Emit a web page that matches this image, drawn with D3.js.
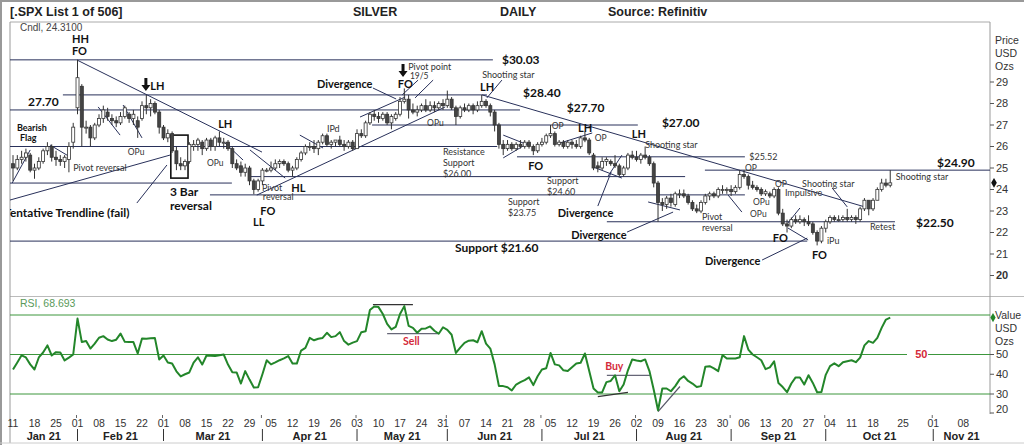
<!DOCTYPE html>
<html>
<head>
<meta charset="utf-8">
<script src="https://cdn.jsdelivr.net/npm/d3@7"></script>
<style>
body { margin: 0; background: #fff; }
</style>
</head>
<body>
<div id="chart"></div>
<script>
// trading days (weekdays) Jan 11 - Oct 22 2021, then calendar days to mid Nov
var startDate = "2021-01-11", endDate = "2021-10-22", axisEnd = "2021-11-14";

// one row = one week
var open = [
 25.2,25.0,25.4,25.5,25.6, 24.9,25.0,25.3,25.8,26.0, 25.5,25.4,25.3,25.4,26.2,
 27.8,28.8,26.9,26.9,26.4, 27.0,27.3,27.6,27.3,27.2, 27.1,27.4,27.5,27.3,27.2,
 27.3,27.9,27.8,28.0,27.6, 26.9,26.4,26.6,25.8,25.2, 25.1,25.3,26.0,26.1,26.2,
 25.9,26.3,26.0,26.4,26.2, 26.2,25.9,25.2,25.1,24.8, 25.0,24.4,24.0,24.4,24.9,
 24.9,25.0,25.2,25.3,25.2, 24.9,25.0,25.4,25.7,26.0, 26.0,25.9,26.2,26.5,26.1,
 26.2,26.3,26.1,26.0,26.2, 25.9,26.6,26.5,27.1,27.5, 27.4,27.3,27.5,27.1,27.3,
 27.5,28.1,28.2,27.7,27.6, 27.7,27.9,27.7,27.9,27.8, 28.0,27.9,28.2,27.8,27.4,
 27.8,27.7,27.9,27.7,27.9, 28.1,27.9,27.6,27.0,26.1, 25.9,26.1,25.9,26.1,26.0,
 26.2,26.0,25.8,26.1,26.2, 26.5,26.6,26.1,26.2,26.0, 26.2,26.1,26.0,26.4,26.3,
 25.6,25.1,25.0,25.3,25.3, 25.2,25.1,24.7,25.0,25.6, 25.5,25.4,25.6,25.5,25.2,
 24.3,23.4,23.3,23.6,23.3, 23.8,23.8,23.7,23.4,23.1, 23.0,23.4,23.7,23.8,23.7,
 24.0,24.0,24.0,23.9,24.1, 24.7,24.6,24.2,24.1,24.0, 23.8,23.8,23.7,24.0,22.9,
 22.4,22.3,22.6,22.5,22.6, 22.5,22.4,22.0,21.6,22.2, 22.5,22.7,22.6,22.6,22.7,
 22.6,22.7,22.6,23.1,23.5, 23.1,23.5,24.0,24.3,24.2
];
var high = [
 25.6,25.6,25.8,25.9,25.7, 25.2,25.5,25.9,26.2,26.1, 25.8,25.6,25.6,26.2,27.1,
 30.03,28.9,27.2,27.0,27.1, 27.5,27.9,27.8,27.5,27.4, 27.6,27.9,27.6,27.7,27.4,
 28.1,28.4,28.2,28.1,27.7, 27.0,26.8,26.7,26.0,25.5, 25.4,26.2,26.3,26.4,26.3,
 26.4,26.4,26.5,26.7,26.4, 26.3,26.0,25.4,25.3,25.2, 25.1,24.5,24.5,25.0,25.0,
 25.3,25.4,25.4,25.4,25.3, 25.1,25.5,25.8,26.1,26.2, 26.3,26.3,26.6,26.6,26.3,
 26.3,26.5,26.3,26.3,26.3, 26.8,26.8,27.2,27.6,27.7, 27.6,27.6,27.6,27.5,27.6,
 28.3,28.7,28.4,28.0,27.9, 28.0,28.2,28.1,28.1,28.1, 28.2,28.6,28.3,27.9,27.9,
 28.0,28.0,28.0,28.1,28.4, 28.2,28.0,27.7,27.1,26.3, 26.3,26.2,26.2,26.3,26.3,
 26.3,26.1,26.2,26.4,26.6, 27.0,26.7,26.3,26.3,26.3, 26.3,26.3,26.5,26.7,26.4,
 25.7,25.3,25.5,25.5,25.4, 25.6,25.2,25.1,25.7,25.8, 25.8,25.7,26.0,25.6,25.3,
 24.4,23.6,23.7,23.8,23.9, 24.0,24.0,23.8,23.5,23.3, 23.5,23.8,23.9,23.9,24.1,
 24.2,24.1,24.2,24.2,24.9, 24.9,24.7,24.4,24.2,24.1, 24.0,23.9,24.1,24.1,23.1,
 22.6,22.7,22.8,22.8,22.7, 22.8,22.5,22.1,22.3,22.6, 22.8,22.8,22.8,22.8,23.1,
 22.8,22.8,23.2,23.6,23.5, 23.6,24.1,24.5,24.5,24.9
];
var low = [
 24.4,24.9,25.2,25.3,24.8, 24.5,24.9,25.2,25.6,25.3, 25.1,25.1,25.0,24.8,25.9,
 27.5,26.0,26.6,26.0,26.3, 26.9,27.1,27.2,27.0,26.9, 27.0,27.3,27.1,27.0,26.4,
 27.2,27.5,27.4,27.5,26.6, 26.3,26.2,25.7,24.9,24.9, 24.9,25.2,25.8,25.8,25.6,
 25.8,25.8,25.8,26.0,25.9, 25.8,25.0,24.9,24.6,24.6, 24.2,23.78,23.9,24.2,24.8,
 24.8,24.9,25.0,25.1,24.8, 24.6,24.9,25.3,25.6,25.8, 25.7,25.6,26.1,26.0,25.9,
 26.0,26.0,25.8,25.9,25.8, 25.9,26.4,26.4,27.0,27.2, 27.1,27.2,27.0,26.8,27.2,
 27.4,28.0,27.3,27.5,27.4, 27.6,27.6,27.6,27.6,27.7, 27.7,27.8,27.7,27.0,27.3,
 27.6,27.6,27.5,27.6,27.8, 27.8,27.4,26.7,25.9,25.6, 25.8,25.8,25.8,25.9,25.9,
 25.9,25.6,25.7,26.0,26.1, 26.4,26.0,26.0,25.9,25.9, 25.9,25.9,25.9,26.2,25.6,
 24.9,24.8,24.9,25.1,25.1, 25.0,24.6,24.6,24.9,25.4, 25.3,25.2,25.4,25.1,24.1,
 22.5,23.0,23.1,23.2,23.2, 23.6,23.6,23.3,23.0,22.9, 22.9,23.3,23.5,23.6,23.6,
 23.8,23.8,23.7,23.8,24.0, 24.5,24.0,24.0,23.9,23.7, 23.7,23.6,23.6,22.8,22.3,
 22.0,22.2,22.4,22.4,22.3, 22.3,21.9,21.4,21.5,22.0, 22.4,22.5,22.5,22.5,22.5,
 22.5,22.4,22.5,23.0,22.8, 23.0,23.5,23.9,24.1,24.1
];
var close = [
 25.0,25.4,25.5,25.7,24.9, 25.0,25.3,25.8,26.0,25.5, 25.4,25.3,25.5,26.0,26.9,
 29.2,26.9,26.9,26.4,27.0, 27.3,27.7,27.4,27.2,27.1, 27.4,27.8,27.3,27.5,26.9,
 27.9,27.8,28.0,27.6,26.9, 26.4,26.6,25.8,25.2,25.1, 25.3,26.1,26.1,26.3,25.9,
 26.3,26.0,26.4,26.2,26.2, 25.9,25.2,25.0,24.8,25.0, 24.4,24.0,24.4,24.9,24.9,
 25.0,25.2,25.3,25.2,24.9, 25.0,25.4,25.7,26.0,26.0, 25.9,26.2,26.5,26.1,26.2,
 26.3,26.1,26.0,26.2,25.9, 26.6,26.5,27.1,27.5,27.4, 27.3,27.5,27.1,27.4,27.5,
 28.1,28.2,27.7,27.6,27.7, 27.9,27.7,27.9,27.8,28.0, 27.9,28.2,27.8,27.4,27.8,
 27.7,27.9,27.7,27.9,28.1, 27.9,27.6,27.0,26.1,25.9, 26.1,25.9,26.1,26.0,26.2,
 26.0,25.8,26.1,26.2,26.5, 26.6,26.1,26.2,26.0,26.2, 26.1,26.0,26.4,26.3,25.7,
 25.0,25.0,25.3,25.4,25.2, 25.1,24.7,25.0,25.6,25.5, 25.4,25.6,25.5,25.2,24.3,
 23.4,23.3,23.6,23.4,23.8, 23.8,23.7,23.4,23.1,23.0, 23.4,23.7,23.8,23.7,24.0,
 24.0,24.0,23.9,24.1,24.7, 24.6,24.2,24.1,24.0,23.8, 23.9,23.7,24.0,22.9,22.4,
 22.3,22.6,22.5,22.6,22.5, 22.4,22.0,21.6,22.2,22.5, 22.7,22.6,22.6,22.7,22.6,
 22.7,22.6,23.1,23.5,23.1, 23.5,24.0,24.3,24.2,24.31
];
var rsi = [
 42.4,46,49.6,48.5,45, 42.4,48.5,51,54.6,49.5, 51.2,51,47,48.4,50,
 68.2,56.3,56.8,53,55.5, 58.5,59.3,57.6,56.8,57.5, 60.6,56.4,56.3,56.3,50.5,
 58.1,58,58.2,58.3,47.5, 49.5,45.9,45.4,41.5,38.9, 40,40.9,45.9,48.6,44.9,
 49.5,49.4,49.2,49.6,50, 44.9,41,40.9,35.3,41.6, 37.3,33.3,33.4,40,47.1,
 45,46,47.1,48,49.2, 45.4,45.4,52,53.4,58.4, 57.2,58,58.4,61,58.8,
 59.3,61.3,56.8,55,56, 56.8,61.3,61.8,72.5,74.3, 74,70.5,65.5,62.7,64,
 70.5,74.5,64.5,63.5,61, 63,63.2,64.2,62,60.5, 63.8,62.5,60,50.8,53.5,
 55.9,57,57.2,56.2,61.8, 55.5,53,45,34,34, 33.4,31.8,34.8,36,37,
 38.4,34.5,39,42.4,43, 50.8,45,44.5,42,41.6, 43.6,45.5,45.8,50.5,41.6,
 32.8,30.8,30.8,36,36.6, 39.5,31.4,34.8,42,47.5, 47,46.6,47.5,41.6,32.2,
 21.8,32.8,32.8,31.4,34, 37.3,39,36.6,35.3,33.5, 34,43.8,44.1,43,41.6,
 49.7,48,48,48,48.6, 59.3,52.5,50,48.6,47.1, 42.6,43.5,46.5,35.6,33.5,
 30.9,35.3,38.4,38.4,34.8, 39.5,35.6,30.9,31,39.7, 44.1,45.5,44.1,46.1,46.6,
 47.1,46.1,48.4,54.6,56.8, 55.9,58.4,63.5,67.7,68.693
];

var priceTicks = [20,21,22,23,24,25,26,27,28,29];
var rsiTicks = [20,30,40,50];
var rsiLevels = [30,50,70];
var lastPrice = 24.31, lastRsi = 68.693;

// support / resistance lines: price, from day index, to day index
var levelPrice = [30.03, 28.40, 27.70, 27.00, 26.00, 25.52, 24.90, 24.30, 24.60, 23.75, 22.50, 21.60];
var levelFrom  = [-1, 11.6, -1, 83.5, -1, 117.2, 160.9, -1, 55.1, 45.8, 138.1, -1];
var levelTo    = [111.6, 110.2, 117.9, 145.3, 112.6, 170.2, 228, 50.9, 156.3, 170.2, 205.1, 184.7];

// hand drawn trend lines and pointers [day, price, day, price]
var trendLines = [
 [14.9,30.02,57.9,25.74],[109.1,28.40,198.1,23.19],[56.7,23.74,100.5,27.84],[80.7,27.37,91.2,28.30],
 [97.7,29.09,93.5,28.26],[94.2,29.09,90.5,28.40],[83.7,28.72,89.1,28.21],[113.7,29.09,110.2,28.26],
 [19.8,27.84,24.9,26.53],[25.6,27.93,30.0,26.40],[-0.2,24.30,4.0,25.84],[8.6,26.07,13.3,25.51],
 [-0.7,23.51,36.5,25.60],[28.8,23.37,35.8,25.14],[49.3,26.16,53.5,25.37],[55.1,25.84,63.3,24.53],
 [66.7,26.53,72.1,25.93],[114,26.53,119.8,26.07],[114,25.47,119.8,26.16],[127.2,26.16,134.7,26.63],
 [134.9,25.05,141.6,24.53],[136,23.23,139.1,24.81],[138.4,24.63,141.6,25.6],[142.8,22.02,153.5,22.95],
 [147.7,23.42,155.1,23.05],[166.3,23.74,169.5,22.95],[174.2,20.72,184.7,21.74],[180.2,22.21,184.9,21.65],
 [180.2,22.44,183.0,23.14],[190.5,24.07,194.0,23.19]
];
var boxes = [[36.7,26.53,40.7,24.53]];
var arrows = [[30.9,29.19],[90.7,29.84]];

// notes on the price panel: text, day, price, bold, size
var notes = [
 ["HH",13.7,30.98,1,11],["FO",13.7,30.45,1,11],["LH",31.9,28.81,1,11],["27.70",3.5,28.07,1,12],
 ["Bearish",0.9,26.86,1,9],["Flag",1.6,26.40,1,9],["LH",47.7,27.05,1,11],["IPd",73.0,26.81,0,9],
 ["Divergence",70.7,28.91,1,11],["$30.03",113.7,30.02,1,12],["Pivot point",91.9,29.72,0,9],["19/5",92.3,29.30,0,8.5],
 ["FO",89.5,28.88,1,11],["Shooting star",109.1,29.33,0,9],["LH",108.6,28.77,1,11],["$28.40",118.6,28.49,1,12],
 ["$27.70",128.8,27.79,1,12],["$27.00",150.9,27.09,1,12],["OP",125.3,26.95,0,8.5],["LH",131.4,26.86,1,11],
 ["OP",135.3,26.40,0,8.5],["LH",143.9,26.58,1,11],["Shooting star",147.0,26.07,0,9],["OPu",26.7,25.74,0,8.5],
 ["OPu",45.1,25.23,0,8.5],["OPu",96.3,27.09,0,8.5],["Pivot reversal",14.0,25.0,0,9],["Resistance",100,25.74,0,9],
 ["Support",100,25.23,0,9],["$26.00",100,24.72,0,9],["FO",119.8,25.09,1,11],["Support",124.2,24.40,0,9],
 ["$24.60",124.2,23.88,0,9],["Support",115.1,23.42,0,9],["$23.75",115.1,22.91,0,9],["Divergence",126.7,22.91,1,11],
 ["Divergence",129.8,21.88,1,11],["Support $21.60",102.8,21.28,1,12],["3 Bar",36.5,23.88,1,12],["reversal",36.5,23.23,1,12],
 ["Pivot",57.9,24.09,0,9],["reversal",58.1,23.64,0,9],["FO",57.5,23.00,1,11],["LL",55.8,22.47,1,11],
 ["HL",64.7,24.07,1,11],["OP",170.2,25.0,0,8.5],["$25.52",171.2,25.51,0,9],["OP",177.2,24.26,0,8.5],
 ["Shooting star",183.5,24.26,0,9],["Impulsive",179.5,23.84,0,9],["OPu",172.1,23.42,0,8.5],["OPu",171.4,22.86,0,8.5],
 ["Pivot",160.2,22.72,0,9],["reversal",160.2,22.21,0,9],["FO",176.7,21.74,1,11],["iPu",189.3,21.60,0,9],
 ["FO",185.8,20.95,1,11],["Divergence",160.9,20.67,1,11],["Retest",199.3,22.26,0,9],["$22.50",210,22.44,1,12],
 ["$24.90",214.9,25.23,1,12],["Shooting star",205.3,24.58,0,9]
];

// RSI notes and marker lines
var rsiNotes = [["Sell",90.7,56.6],["Buy",137.7,43.9]];
var rsiMarks = [[83.7,75.3,93.0,75.3,"#333"],[87.0,60.6,98.8,60.6,"#667"],[138.1,39.4,148.1,39.4,"#667"],
                [136.0,28.7,143.0,30.8,"#333"],[150.0,21.1,155.1,33.8,"#556"]];

var W = 1024, H = 445;
var L = 10, R = 990, pTop = 22, pBot = 296.5, rTop = 297, rBot = 414;

var parse = d3.timeParse("%Y-%m-%d");
var tradeDays = d3.timeDay.range(parse(startDate), d3.timeDay.offset(parse(endDate), 1))
    .filter(function(d) { return d.getDay() % 6 !== 0; });
var futureDays = d3.timeDay.range(d3.timeDay.offset(parse(endDate), 1), d3.timeDay.offset(parse(axisEnd), 1));
var axisDays = tradeDays.concat(futureDays);

var x = d3.scaleLinear().domain([-0.7, 227.2]).range([L, R]);
var yP = d3.scaleLinear().domain([20, 29]).range([275.5, 82]);
var yR = d3.scaleLinear().domain([30, 70]).range([394, 315]);

var svg = d3.select("#chart").append("svg").attr("width", W).attr("height", H)
    .style("font-family", "'Liberation Sans', Arial, sans-serif");
svg.append("rect").attr("width", W).attr("height", H).attr("fill", "#fff");

var defs = svg.append("defs");
defs.append("clipPath").attr("id", "cp").append("rect").attr("x", L).attr("y", pTop).attr("width", R - L).attr("height", pBot - pTop);
defs.append("clipPath").attr("id", "cr").append("rect").attr("x", L).attr("y", rTop).attr("width", R - L).attr("height", rBot - rTop);

// frame
svg.append("line").attr("x1", 0).attr("x2", W).attr("y1", 1).attr("y2", 1).attr("stroke", "#999").attr("stroke-width", 2);
svg.append("line").attr("x1", 1).attr("x2", 1).attr("y1", 0).attr("y2", H).attr("stroke", "#999").attr("stroke-width", 2);
svg.append("line").attr("x1", L).attr("x2", R).attr("y1", pTop).attr("y2", pTop).attr("stroke", "#aaa");
svg.append("line").attr("x1", L).attr("x2", W).attr("y1", pBot).attr("y2", pBot).attr("stroke", "#bbb");
svg.append("line").attr("x1", L).attr("x2", L).attr("y1", pTop).attr("y2", 443).attr("stroke", "#999");
svg.append("line").attr("x1", R).attr("x2", R).attr("y1", pTop).attr("y2", rBot).attr("stroke", "#999");
svg.append("line").attr("x1", 0).attr("x2", W).attr("y1", 443).attr("y2", 443).attr("stroke", "#ccc");

// header
var head = [["[.SPX List 1 of 506]", 10], ["SILVER", 353], ["DAILY", 500], ["Source: Refinitiv", 608]];
svg.selectAll(".head").data(head).enter().append("text")
    .attr("x", function(d) { return d[1]; }).attr("y", 16)
    .attr("font-size", 12.5).attr("font-weight", "bold").attr("fill", "#222")
    .text(function(d) { return d[0]; });

svg.append("text").attr("x", 20).attr("y", 31).attr("font-size", 10).attr("fill", "#444").text("Cndl, 24.3100");

// price panel
var gp = svg.append("g").attr("clip-path", "url(#cp)");
var navy = "#28305a";

gp.selectAll(".lev").data(levelPrice).enter().append("line")
    .attr("x1", function(d, i) { return x(levelFrom[i]); })
    .attr("x2", function(d, i) { return x(levelTo[i]); })
    .attr("y1", function(d) { return yP(d); }).attr("y2", function(d) { return yP(d); })
    .attr("stroke", navy).attr("stroke-width", 1);

gp.selectAll(".tl").data(trendLines).enter().append("line")
    .attr("x1", function(d) { return x(d[0]); }).attr("y1", function(d) { return yP(d[1]); })
    .attr("x2", function(d) { return x(d[2]); }).attr("y2", function(d) { return yP(d[3]); })
    .attr("stroke", navy).attr("stroke-width", 1);

gp.selectAll(".box").data(boxes).enter().append("rect")
    .attr("x", function(d) { return x(d[0]); }).attr("y", function(d) { return yP(d[1]); })
    .attr("width", function(d) { return x(d[2]) - x(d[0]); })
    .attr("height", function(d) { return yP(d[3]) - yP(d[1]); })
    .attr("fill", "none").attr("stroke", "#111").attr("stroke-width", 1.6);

// candles
var cg = gp.selectAll(".cdl").data(close).enter().append("g");
cg.append("line")
    .attr("x1", function(d, i) { return x(i); }).attr("x2", function(d, i) { return x(i); })
    .attr("y1", function(d, i) { return yP(high[i]); }).attr("y2", function(d, i) { return yP(low[i]); })
    .attr("stroke", "#333").attr("stroke-width", 1);
cg.append("rect")
    .attr("x", function(d, i) { return x(i) - 1.5; }).attr("width", 3)
    .attr("y", function(d, i) { return yP(Math.max(open[i], d)); })
    .attr("height", function(d, i) { return Math.max(1, Math.abs(yP(open[i]) - yP(d))); })
    .attr("fill", function(d, i) { return d >= open[i] ? "#fff" : "#444"; })
    .attr("stroke", "#333").attr("stroke-width", 0.8);

// down arrows
gp.selectAll(".arr").data(arrows).enter().append("path")
    .attr("transform", function(d) { return "translate(" + x(d[0]) + "," + yP(d[1]) + ")"; })
    .attr("d", "M-1.5,0 H1.5 V7 H4.5 L0,13 L-4.5,7 H-1.5 Z").attr("fill", "#111");

// notes
var noteG = svg.append("g").attr("clip-path", "url(#cp)").style("font-family", "Lato, 'Open Sans', sans-serif");
noteG.selectAll(".nt").data(notes).enter().append("text")
    .attr("x", function(d) { return x(d[1]); }).attr("y", function(d) { return yP(d[2]); })
    .attr("dy", "0.35em")
    .attr("font-size", function(d) { return d[4]; })
    .attr("font-weight", function(d) { return d[3] ? "bold" : "normal"; })
    .attr("fill", function(d) { return d[3] ? "#111" : "#333"; })
    .text(function(d) { return d[0]; });
noteG.append("text").attr("x", x(27.1)).attr("y", yP(22.91)).attr("dy", "0.35em")
    .attr("text-anchor", "end").attr("font-size", 11.8).attr("font-weight", "bold").attr("fill", "#111")
    .text("Tentative Trendline (fail)");

// price axis
var pa = svg.append("g");
pa.selectAll(".pt").data(priceTicks).enter().append("line")
    .attr("x1", R).attr("x2", R + 4).attr("y1", function(d) { return yP(d); }).attr("y2", function(d) { return yP(d); })
    .attr("stroke", "#555");
pa.selectAll(".pl").data(priceTicks).enter().append("text")
    .attr("x", R + 6).attr("y", function(d) { return yP(d); }).attr("dy", "0.35em")
    .attr("font-size", 11).attr("fill", "#333")
    .attr("font-weight", function(d) { return d === 20 ? "bold" : "normal"; })
    .text(function(d) { return d; });
pa.selectAll(".pu").data(["Price", "USD", "Ozs"]).enter().append("text")
    .attr("x", R + 5).attr("y", function(d, i) { return 44 + i * 13; })
    .attr("font-size", 10.5).attr("fill", "#333").text(function(d) { return d; });
pa.append("path").attr("d", d3.symbol(d3.symbolDiamond, 28)())
    .attr("transform", "translate(" + (R + 4) + "," + yP(lastPrice) + ")").attr("fill", "#111");

// RSI panel
var gr = svg.append("g").attr("clip-path", "url(#cr)");
var green = "#3c963c";
rsiLevels.forEach(function(v) {
    if (v === 50) {
        gr.append("line").attr("x1", L).attr("x2", x(207.9)).attr("y1", yR(v)).attr("y2", yR(v)).attr("stroke", green);
        gr.append("line").attr("x1", x(212.8)).attr("x2", R).attr("y1", yR(v)).attr("y2", yR(v)).attr("stroke", green);
    } else {
        gr.append("line").attr("x1", L).attr("x2", R).attr("y1", yR(v)).attr("y2", yR(v)).attr("stroke", green);
    }
});
gr.selectAll(".rm").data(rsiMarks).enter().append("line")
    .attr("x1", function(d) { return x(d[0]); }).attr("y1", function(d) { return yR(d[1]); })
    .attr("x2", function(d) { return x(d[2]); }).attr("y2", function(d) { return yR(d[3]); })
    .attr("stroke", function(d) { return d[4]; }).attr("stroke-width", 1.2);
gr.append("path").datum(rsi)
    .attr("d", d3.line().x(function(d, i) { return x(i); }).y(function(d) { return yR(d); }))
    .attr("fill", "none").attr("stroke", "#23862a").attr("stroke-width", 2).attr("stroke-linejoin", "round");
gr.selectAll(".rn").data(rsiNotes).enter().append("text")
    .attr("x", function(d) { return x(d[1]); }).attr("y", function(d) { return yR(d[2]); }).attr("dy", "0.35em")
    .attr("font-family", "Lato, sans-serif").attr("font-size", 10.5).attr("font-weight", "bold").attr("fill", "#d42a3a")
    .text(function(d) { return d[0]; });
gr.append("text").attr("x", x(209.8)).attr("y", yR(50)).attr("dy", "0.35em")
    .attr("font-size", 11).attr("font-weight", "bold").attr("fill", "#d42a3a").text("50");

svg.append("text").attr("x", 20).attr("y", 307).attr("font-size", 10.5).attr("fill", "#5a9a5a").text("RSI, 68.693");

var ra = svg.append("g");
ra.selectAll(".rt").data(rsiTicks).enter().append("line")
    .attr("x1", R).attr("x2", R + 4).attr("y1", function(d) { return Math.min(yR(d), rBot - 1); })
    .attr("y2", function(d) { return Math.min(yR(d), rBot - 1); }).attr("stroke", "#555");
ra.selectAll(".rl").data(rsiTicks).enter().append("text")
    .attr("x", R + 6).attr("y", function(d) { return d === 20 ? yR(d) - 5 : yR(d); }).attr("dy", "0.35em")
    .attr("font-size", 11).attr("fill", "#333").text(function(d) { return d; });
ra.selectAll(".ru").data(["Value", "USD", "Ozs"]).enter().append("text")
    .attr("x", R + 5).attr("y", function(d, i) { return 319 + i * 13; })
    .attr("font-size", 10.5).attr("fill", "#333").text(function(d) { return d; });
ra.append("path").attr("d", d3.symbol(d3.symbolDiamond, 24)())
    .attr("transform", "translate(" + (R + 3) + "," + yR(lastRsi) + ")").attr("fill", "#23862a");

// date axis
var fmtDay = d3.timeFormat("%d"), fmtMon = d3.timeFormat("%b %y");
var mondays = [];
axisDays.forEach(function(d, i) { if (d.getDay() === 1) mondays.push(i); });
svg.selectAll(".dl").data(mondays).enter().append("text")
    .attr("x", function(i) { return x(i); }).attr("y", 427)
    .attr("text-anchor", "middle").attr("font-size", 10.5).attr("fill", "#333")
    .text(function(i) { return fmtDay(axisDays[i]); });

var monthStarts = [];
axisDays.forEach(function(d, i) {
    if (i > 0 && d.getMonth() !== axisDays[i - 1].getMonth()) monthStarts.push(i);
});
svg.selectAll(".ms").data(monthStarts).enter().append("line")
    .attr("x1", function(i) { return x(i); }).attr("x2", function(i) { return x(i); })
    .attr("y1", 429).attr("y2", 441).attr("stroke", "#333");
svg.selectAll(".mt").data(monthStarts).enter().append("line")
    .attr("x1", function(i) { return x(i) - 1; }).attr("x2", function(i) { return x(i) - 1; })
    .attr("y1", rBot + 1).attr("y2", rBot + 4).attr("stroke", "#666");

var bounds = [L].concat(monthStarts.map(function(i) { return x(i); })).concat([R]);
var monthDates = [axisDays[0]].concat(monthStarts.map(function(i) { return axisDays[i]; }));
svg.selectAll(".ml").data(monthDates).enter().append("text")
    .attr("x", function(d, k) { return (bounds[k] + bounds[k + 1]) / 2; }).attr("y", 440)
    .attr("text-anchor", "middle").attr("font-size", 11).attr("font-weight", "bold").attr("fill", "#222")
    .text(function(d) { return fmtMon(d); });
</script>
</body>
</html>
